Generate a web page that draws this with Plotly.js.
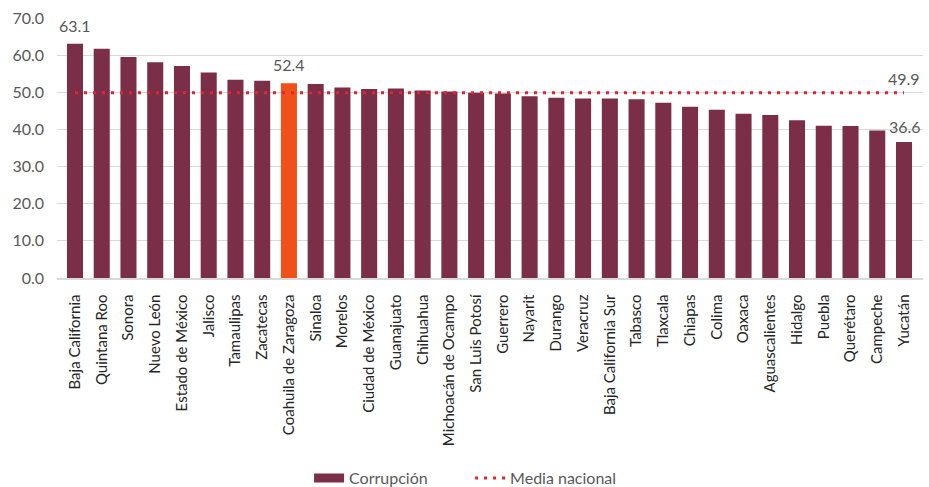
<!DOCTYPE html>
<html>
<head>
<meta charset="utf-8">
<script src="https://cdn.plot.ly/plotly-3.0.1.min.js"></script>
<style>html,body{margin:0;padding:0;background:#fff;}#chart{width:929px;height:487px;}</style>
</head>
<body>
<div id="chart"></div>
<script>
const states = ["Baja California","Quintana Roo","Sonora","Nuevo León","Estado de México","Jalisco","Tamaulipas","Zacatecas","Coahuila de Zaragoza","Sinaloa","Morelos","Ciudad de México","Guanajuato","Chihuahua","Michoacán de Ocampo","San Luis Potosí","Guerrero","Nayarit","Durango","Veracruz","Baja California Sur","Tabasco","Tlaxcala","Chiapas","Colima","Oaxaca","Aguascalientes","Hidalgo","Puebla","Querétaro","Campeche","Yucatán"];
const corrupcion = [63.1,61.7,59.5,58.1,57.1,55.3,53.4,53.1,52.4,52.2,51.3,50.9,51.0,50.5,50.2,49.9,49.7,48.9,48.5,48.3,48.3,48.1,47.2,46.1,45.3,44.2,43.9,42.5,41.0,40.9,39.7,36.6];
const mediaNacional = 49.9;
const highlight = "Coahuila de Zaragoza";
const yTicks = [0,10,20,30,40,50,60,70];

const barColor = "#7a2e47";
const hiColor = "#f0501a";
const colors = states.map(s => s === highlight ? hiColor : barColor);
const mediaY = states.map(() => mediaNacional);

const iMax = 0, iMin = states.length - 1, iHi = states.indexOf(highlight);
const FONT = "Lato, 'Open Sans', sans-serif";
const labelFont = {family: FONT, size: 16, color: "#595959"};
const annotations = [
  {x: states[iMax], y: corrupcion[iMax], text: corrupcion[iMax].toFixed(1), showarrow: false, yanchor: "bottom", yshift: 7, font: labelFont},
  {x: states[iHi], y: corrupcion[iHi], text: corrupcion[iHi].toFixed(1), showarrow: false, yanchor: "bottom", yshift: 7, font: labelFont},
  {x: states[iMin], y: mediaNacional, text: mediaNacional.toFixed(1), showarrow: false, yanchor: "bottom", yshift: 3, xshift: 0, font: labelFont},
  {x: states[iMin], y: corrupcion[iMin], text: corrupcion[iMin].toFixed(1), showarrow: false, yanchor: "bottom", yshift: 4, xshift: 1, font: labelFont}
];

const data = [
  {type: "bar", name: "Corrupción", x: states, y: corrupcion, marker: {color: colors}, showlegend: false},
  {type: "scatter", mode: "lines", name: "Corrupción", x: [null], y: [null], line: {color: barColor, width: 9}, showlegend: true},
  {type: "scatter", mode: "lines", name: "Media nacional", x: states, y: mediaY, line: {color: "#e4232b", width: 3, dash: "3px,6px"}}
];

const layout = {
  width: 929, height: 487,
  margin: {l: 57, r: 6, t: 18, b: 209, autoexpand: false},
  paper_bgcolor: "#fff", plot_bgcolor: "#fff",
  bargap: 0.4,
  font: {family: FONT, color: "#595959"},
  xaxis: {
    type: "category", tickangle: -90, showgrid: false,
    showline: true, linecolor: "#d9d9d9", linewidth: 1.5,
    tickfont: {family: FONT, size: 15, color: "#262626"},
    ticks: "", ticklabelstandoff: 9, automargin: false
  },
  yaxis: {
    range: [0, 70], tickvals: yTicks, tickformat: ".1f",
    showgrid: true, gridcolor: "#d9d9d9", gridwidth: 1.2, zeroline: false,
    tickfont: {family: FONT, size: 16, color: "#595959"},
    ticks: "", ticklabelstandoff: 12, automargin: false
  },
  showlegend: true,
  legend: {orientation: "h", x: 0.477, xanchor: "center", y: -0.77, yanchor: "middle",
           entrywidth: 116, entrywidthmode: "pixels",
           font: {family: FONT, size: 16, color: "#595959"}, traceorder: "normal"},
  annotations: annotations
};

Plotly.newPlot("chart", data, layout, {displayModeBar: false, staticPlot: true});
</script>
</body>
</html>
